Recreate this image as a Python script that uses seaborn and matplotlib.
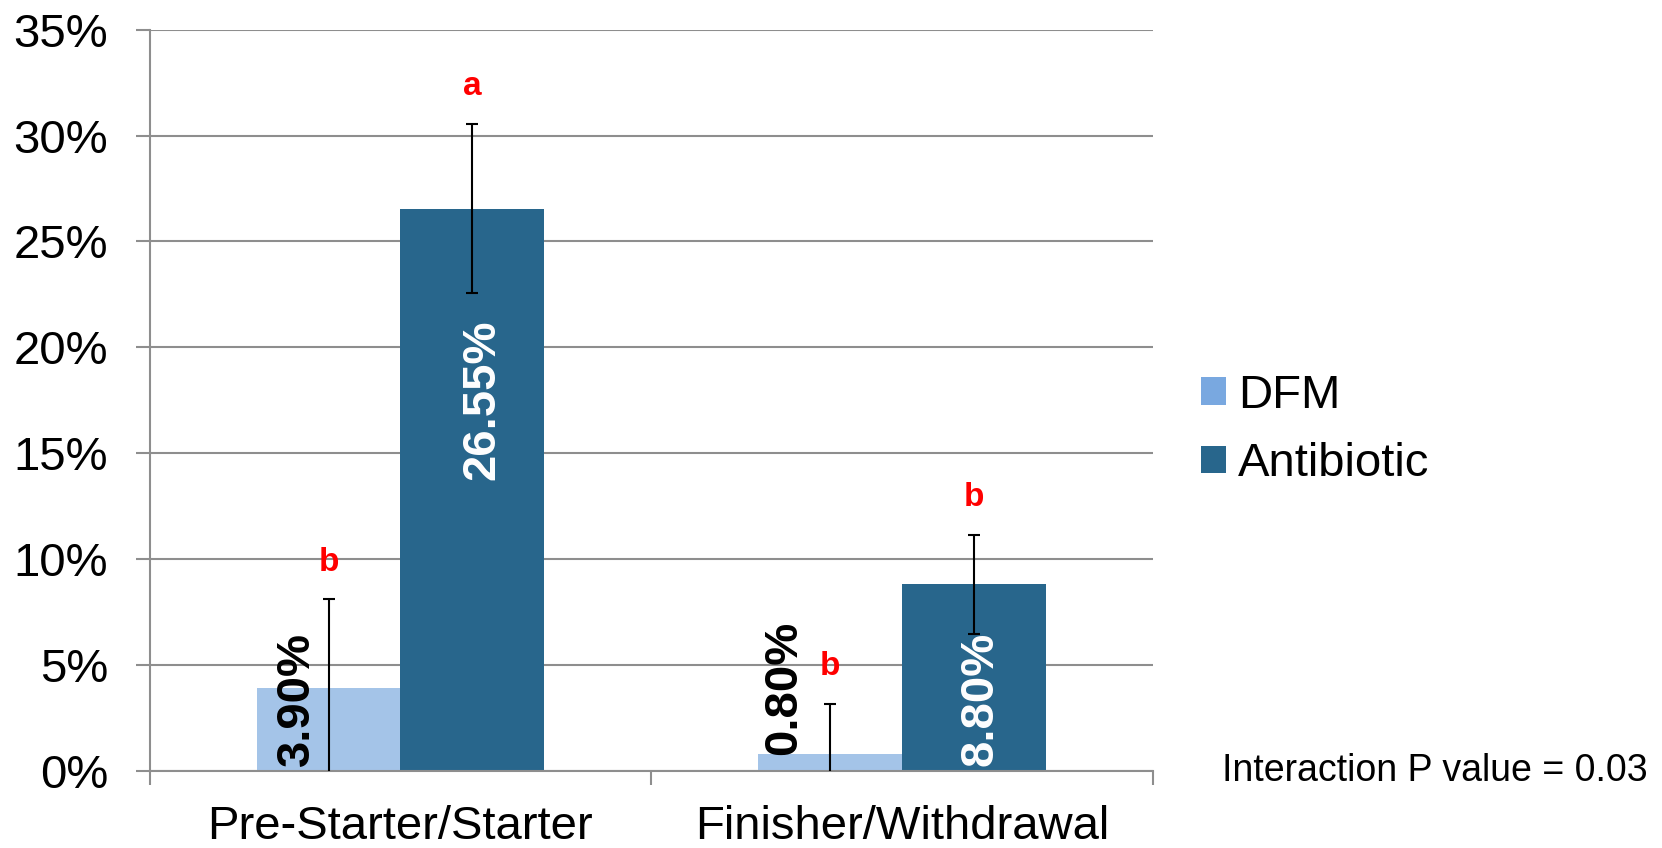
import matplotlib
matplotlib.use("Agg")
import matplotlib.pyplot as plt
import seaborn as sns
import pandas as pd
from matplotlib.patches import Patch
from matplotlib.ticker import FuncFormatter, FixedLocator

# Feeding phases and treatments
phases = ["Pre-Starter/Starter", "Finisher/Withdrawal"]
treatments = ["DFM", "Antibiotic"]

# Means (%) and error half-widths (%)
dfm_values = [3.90, 0.80]
antibiotic_values = [26.55, 8.80]
dfm_errors = [4.20, 2.35]
antibiotic_errors = [4.00, 2.35]

# Significance letters
dfm_letters = ["b", "b"]
antibiotic_letters = ["a", "b"]

y_ticks = [0, 5, 10, 15, 20, 25, 30, 35]
p_value_note = "Interaction P value = 0.03"

sns.set_theme(style="white")
plt.rcParams["font.family"] = ["Liberation Sans", "DejaVu Sans"]
plt.rcParams["text.color"] = "black"

bar_colors = ["#A4C4E8", "#28668C"]
legend_colors = ["#79A8E0", "#28668C"]
grid_color = "#8E8E8E"

df = pd.DataFrame({
    "phase": phases * 2,
    "treatment": [treatments[0]] * len(phases) + [treatments[1]] * len(phases),
    "value": dfm_values + antibiotic_values,
})

fig = plt.figure(figsize=(16.62, 8.48), dpi=100)
ax = fig.add_axes([0.09, 0.0913, 0.6037, 0.8737])

sns.barplot(data=df, x="phase", y="value", hue="treatment", hue_order=treatments,
            palette=bar_colors, saturation=1, width=0.573, gap=0,
            errorbar=None, legend=False, ax=ax, zorder=2,
            linewidth=0, edgecolor="none")

values_by_series = [dfm_values, antibiotic_values]
errors_by_series = [dfm_errors, antibiotic_errors]
letters_by_series = [dfm_letters, antibiotic_letters]

# value label placement per series/bar: (x offset, y, vertical alignment, colour)
label_style = [
    [(-0.063, 0.2, "bottom", "black"), (-0.092, 0.75, "bottom", "black")],
    [(0.020, 17.5, "center", "white"), (0.013, 0.2, "bottom", "white")],
]

bar_containers = list(ax.containers)
for s, container in enumerate(bar_containers):
    centers = [p.get_x() + p.get_width() / 2 for p in container.patches]
    vals = values_by_series[s]
    errs = errors_by_series[s]
    ax.errorbar(centers, vals, yerr=errs, fmt="none", ecolor="black",
                elinewidth=1.5, capsize=4.5, capthick=1.5, zorder=3)
    for i, (cx, v, e) in enumerate(zip(centers, vals, errs)):
        dx, ly, va, col = label_style[s][i]
        ax.text(cx + dx, ly, f"{v:.2f}%", rotation=90, ha="center", va=va,
                color=col, fontsize=34, fontweight="bold", zorder=4)
        ax.text(cx, v + e + 1.75, letters_by_series[s][i], ha="center",
                va="center", color="red", fontsize=24, fontweight="bold",
                zorder=4)

ax.set_xlim(-0.5, 1.5)
ax.set_ylim(0, 35)
ax.set_yticks(y_ticks)
ax.yaxis.set_major_formatter(FuncFormatter(lambda v, _: f"{v:.0f}%"))
ax.set_xlabel("")
ax.set_ylabel("")

ax.set_axisbelow(True)
ax.yaxis.grid(True, color=grid_color, linewidth=1.5)
ax.xaxis.grid(False)

for side in ["top", "right"]:
    ax.spines[side].set_visible(False)
for side in ["left", "bottom"]:
    ax.spines[side].set_color(grid_color)
    ax.spines[side].set_linewidth(1.5)

ax.tick_params(axis="y", which="major", left=True, length=10, width=1.5,
               color=grid_color, labelsize=34, labelcolor="black", pad=20)
ax.tick_params(axis="x", which="major", bottom=False, length=0,
               labelsize=34, labelcolor="black", pad=25)
ax.xaxis.set_minor_locator(FixedLocator([-0.5, 0.5, 1.5]))
ax.tick_params(axis="x", which="minor", bottom=True, length=10, width=1.5,
               color=grid_color)

handles = [Patch(facecolor=c, edgecolor="none", label=t)
           for c, t in zip(legend_colors, treatments)]
fig.legend(handles=handles, loc="center left", bbox_to_anchor=(0.7226, 0.493),
           frameon=False, fontsize=34, handlelength=0.53, handleheight=0.53,
           handletextpad=0.25, labelspacing=0.52, borderpad=0, borderaxespad=0,
           labelcolor="black")

fig.text(0.7354, 0.0913, p_value_note, ha="left", va="center", fontsize=27,
         color="black")

fig.savefig("out.png", dpi=100, facecolor="white")
